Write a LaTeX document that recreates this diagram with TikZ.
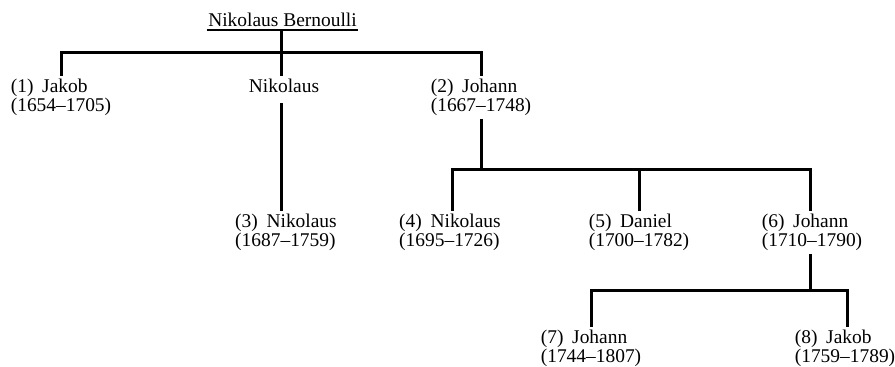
\documentclass[tikz,border=0pt]{standalone}
\usepackage{fontspec}
\setmainfont{Liberation Serif}
\begin{document}
\begin{tikzpicture}[x=1bp,y=-1bp,
  pers/.style={font=\fontsize{19.5}{19}\selectfont, align=left, inner xsep=0pt, inner ysep=3bp, anchor=north},
  bar/.style={line width=3bp},
  ul/.style={line width=1.1bp}]
\useasboundingbox (0,0) rectangle (895,366);
% title
\node[font=\fontsize{19.5}{19}\selectfont, inner xsep=1.5bp, inner ysep=3bp, anchor=south] (title) at (282.5,30) {Nikolaus Bernoulli};
\draw[ul] (title.south west) -- (title.south east);
% row 1
\node[pers] (p1) at (61,76) {(1)\hspace{0.45em}Jakob\\(1654--1705)};
\node[pers] (nik) at (284,76) {Nikolaus};
\node[pers] (p2) at (481,76) {(2)\hspace{0.45em}Johann\\(1667--1748)};
% row 2
\node[pers] (p3) at (286,211) {(3)\hspace{0.45em}Nikolaus\\(1687--1759)};
\node[pers] (p4) at (450,211) {(4)\hspace{0.45em}Nikolaus\\(1695--1726)};
\node[pers] (p5) at (639,211) {(5)\hspace{0.45em}Daniel\\(1700--1782)};
\node[pers] (p6) at (812,211) {(6)\hspace{0.45em}Johann\\(1710--1790)};
% row 3
\node[pers] (p7) at (591,327) {(7)\hspace{0.45em}Johann\\(1744--1807)};
\node[pers] (p8) at (845,327) {(8)\hspace{0.45em}Jakob\\(1759--1789)};
% junctions
\coordinate (t0) at (281,30);
\coordinate (b1) at (281,52);
\coordinate (b2) at (481,169);
\coordinate (b3) at (810,290);
% level 1
\draw[bar] (t0) -- (t0 |- nik.north);
\draw[bar] (p1.north) -- (p1.north |- b1) -- (p2.north |- b1) -- (p2.north);
\draw[bar] ([yshift=-7bp]t0 |- nik.south) -- (t0 |- p3.north);
% level 2
\draw[bar] (p2.south) -- (p2.south |- b2);
\draw[bar] ([xshift=2bp]p4.north) -- ([xshift=2bp]p4.north |- b2) -- ([xshift=-2bp]p6.north |- b2) -- ([xshift=-2bp]p6.north);
\draw[bar] (p5.north) -- (p5.north |- b2);
% level 3
\draw[bar] (b3 |- p6.south) -- (b3);
\draw[bar] (p7.north) -- (p7.north |- b3) -- ([xshift=2bp]p8.north |- b3) -- ([xshift=2bp]p8.north);
\end{tikzpicture}
\end{document}
